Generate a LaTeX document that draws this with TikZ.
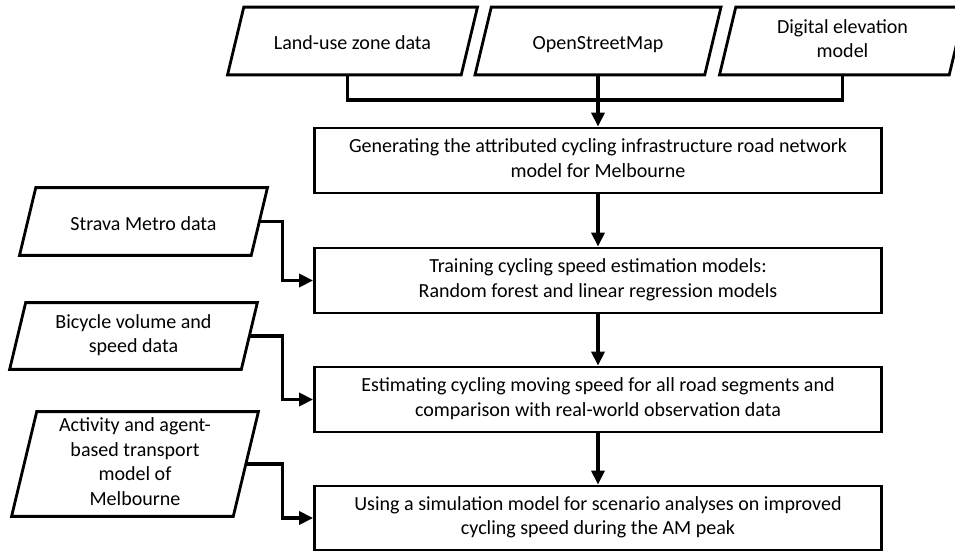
\documentclass[tikz,border=0pt]{standalone}
\usepackage{fontspec}
\setmainfont{Carlito}
\usetikzlibrary{calc,arrows.meta}
\newcommand\vstrut{\rule[-2.8pt]{0pt}{15.8pt}}

\begin{document}
\begin{tikzpicture}[
  font=\fontsize{11.4}{14.2}\selectfont,
  every node/.style={execute at begin node=\vstrut, execute at end node=\vstrut},
  datain/.style={rectangle, align=center, inner sep=1pt, minimum height=1.34cm},
  frame/.style={line width=1.6pt, line join=miter},
  stepbox/.style={draw, line width=1.6pt, rectangle, align=center,
    minimum width=11.34cm, minimum height=1.3cm},
  link/.style={line width=2.1pt},
  flow/.style={link, -{Triangle[length=0.28cm,width=0.26cm]}}
]
\useasboundingbox (0,0) rectangle (19.1,-11.02);
            % inputs on top
            \node[datain, minimum width=4.66cm] (landuse) at (7.05,-0.82) {Land-use zone data};
            \node[datain, minimum width=4.58cm] (osm) at (11.96,-0.82) {OpenStreetMap};
            \node[datain, minimum width=4.58cm] (dem) at (16.85,-0.82) {Digital elevation\\model};
            % main steps
            \node[stepbox] (gen) at (11.96,-3.21) {Generating the attributed cycling infrastructure road network\\model for Melbourne};
            \node[stepbox] (train) at (11.96,-5.61) {Training cycling speed estimation models:\\Random forest and linear regression models};
            \node[stepbox] (estim) at (11.96,-7.99) {Estimating cycling moving speed for all road segments and\\comparison with real-world observation data};
            \node[stepbox, minimum height=1.28cm] (simul) at (11.96,-10.36) {Using a simulation model for scenario analyses on improved\\cycling speed during the AM peak};
            % inputs on the left
            \node[datain, minimum width=4.62cm] (strava) at (2.87,-4.43) {Strava Metro data};
            \node[datain, minimum width=4.62cm, minimum height=1.32cm] (bicycle) at (2.67,-6.72) {Bicycle volume and\\speed data};
            \node[datain, minimum width=4.42cm, minimum height=2.08cm] (activity) at (2.7,-9.28) {Activity and agent-\\based transport\\model of\\Melbourne};
            % slanted data frames
            \foreach \nd in {landuse,osm,dem,strava,bicycle,activity}
              \draw[frame] let \p1=($(\nd.north)-(\nd.south)$) in
                ([xshift=0.12*\y1]\nd.north west) -- ([xshift=0.12*\y1]\nd.north east)
                -- ([xshift=-0.12*\y1]\nd.south east) -- ([xshift=-0.12*\y1]\nd.south west) -- cycle;
            \coordinate (join) at (11.96,-2.0);
            \coordinate (elbow) at (5.65,0);
            \draw[link] ([xshift=-0.1cm]landuse.south) |- (join) -| (dem.south);
            \draw[flow] (osm.south) -- (gen.north);
            \draw[flow] (gen.south) -- (train.north);
            \draw[flow] (train.south) -- (estim.north);
            \draw[flow] (estim.south) -- (simul.north);
            \draw[flow] (strava.east) -| (elbow |- train.west) -- (train.west);
            \draw[flow] (bicycle.east) -| (elbow |- estim.west) -- (estim.west);
            \draw[flow] (activity.east) -| (elbow |- simul.west) -- (simul.west);
\end{tikzpicture}
\end{document}
